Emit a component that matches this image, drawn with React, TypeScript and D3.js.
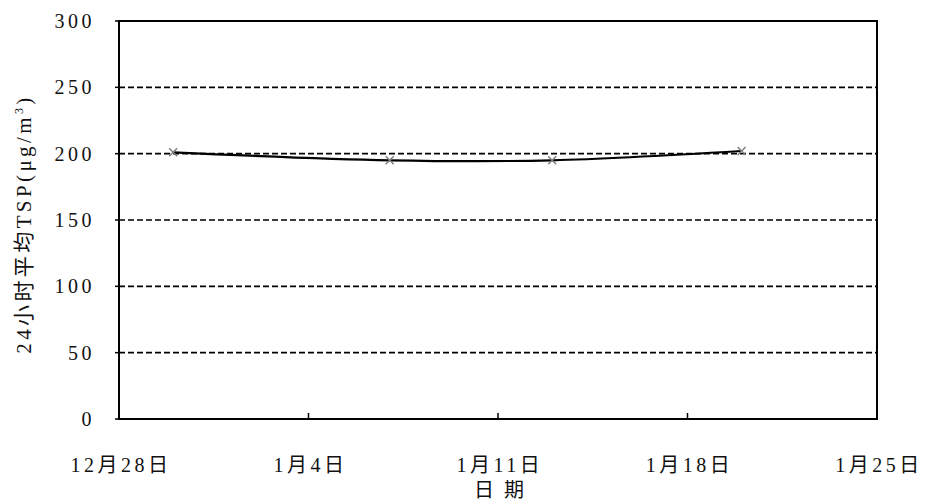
import * as React from 'react'
import { useEffect, useRef } from 'react'
import * as d3 from 'd3'

// sample dates and 24h average TSP (µg/m³)
const sampleDates = ['2013-12-30', '2014-01-07', '2014-01-13', '2014-01-20']
const tspValues = [201, 195, 195, 202]
const xDomain = ['2013-12-28', '2014-01-25']
const yTicks = [0, 50, 100, 150, 200, 250, 300]

const W = 925
const H = 502
const margin = { top: 21, right: 48, bottom: 83, left: 119 }
const FONT = '"Liberation Serif", "Noto Sans CJK JP", serif'

const App = () => {
  const ref = useRef<SVGSVGElement | null>(null)

  useEffect(() => {
    const svg = d3.select(ref.current)
    svg.selectAll('*').remove()

    const parse = d3.timeParse('%Y-%m-%d')
    const x = d3.scaleTime()
      .domain(xDomain.map(d => parse(d) as Date))
      .range([margin.left, W - margin.right])
    const y = d3.scaleLinear().domain([0, 300]).range([H - margin.bottom, margin.top])

    const g = svg.append('g')

    // dashed grid lines
    g.selectAll('line.grid')
      .data(yTicks.filter(t => t > 0 && t < 300))
      .enter()
      .append('line')
      .attr('class', 'grid')
      .attr('x1', margin.left).attr('x2', W - margin.right)
      .attr('y1', d => y(d)).attr('y2', d => y(d))
      .attr('stroke', '#000')
      .attr('stroke-width', 1.6)
      .attr('stroke-dasharray', '6,3')

    // y ticks (outside) and labels
    g.selectAll('line.ytick')
      .data(yTicks)
      .enter()
      .append('line')
      .attr('x1', margin.left - 4).attr('x2', margin.left)
      .attr('y1', d => y(d)).attr('y2', d => y(d))
      .attr('stroke', '#000').attr('stroke-width', 1.5)

    g.selectAll('text.ylab')
      .data(yTicks)
      .enter()
      .append('text')
      .attr('x', 95)
      .attr('y', d => y(d) + 7)
      .attr('text-anchor', 'end')
      .attr('font-family', FONT)
      .attr('font-size', 20)
      .attr('letter-spacing', 3.5)
      .attr('fill', '#111')
      .text(d => String(d))

    // x ticks (inside), one per week from the start date
    const start = x.domain()[0]
    const xt = d3.range(0, 29, 7).map(k => d3.timeDay.offset(start, k))
    const fmt = (d: Date) => `${d.getMonth() + 1}月${d.getDate()}日`

    g.selectAll('line.xtick')
      .data(xt)
      .enter()
      .append('line')
      .attr('x1', d => x(d)).attr('x2', d => x(d))
      .attr('y1', H - margin.bottom).attr('y2', H - margin.bottom - 6)
      .attr('stroke', '#000').attr('stroke-width', 1.5)

    g.selectAll('text.xlab')
      .data(xt)
      .enter()
      .append('text')
      .attr('x', d => x(d) + 2)
      .attr('y', 472)
      .attr('text-anchor', 'middle')
      .attr('font-family', FONT)
      .attr('font-size', 20)
      .attr('letter-spacing', 3.5)
      .attr('fill', '#111')
      .text(d => fmt(d))

    // plot frame
    g.append('rect')
      .attr('x', margin.left).attr('y', margin.top)
      .attr('width', W - margin.left - margin.right)
      .attr('height', H - margin.top - margin.bottom)
      .attr('fill', 'none')
      .attr('stroke', '#000')
      .attr('stroke-width', 2)

    // series
    const pts: [number, number][] = sampleDates.map((d, i) => [x(parse(d) as Date), y(tspValues[i])])
    const line = d3.line().curve(d3.curveCatmullRom.alpha(0.5))
    g.append('path')
      .attr('d', line(pts) as string)
      .attr('fill', 'none')
      .attr('stroke', '#000')
      .attr('stroke-width', 2.2)

    const s = 4
    g.selectAll('path.mark')
      .data(pts)
      .enter()
      .append('path')
      .attr('d', d => `M${d[0] - s},${d[1] - s}L${d[0] + s},${d[1] + s}M${d[0] - s},${d[1] + s}L${d[0] + s},${d[1] - s}`)
      .attr('stroke', '#808080')
      .attr('stroke-width', 1.5)
      .attr('fill', 'none')

    // axis titles
    g.append('text')
      .attr('x', 499)
      .attr('y', 497)
      .attr('text-anchor', 'middle')
      .attr('font-family', FONT)
      .attr('font-size', 20)
      .attr('fill', '#111')
      .attr('xml:space', 'preserve')
      .text('日  期')

    const yt = g.append('text')
      .attr('transform', `translate(31,${224}) rotate(-90)`)
      .attr('text-anchor', 'middle')
      .attr('font-family', FONT)
      .attr('font-size', 21)
      .attr('fill', '#111')
      .attr('letter-spacing', 3.4)
    yt.append('tspan').text('24小时平均TSP(μg/m')
    yt.append('tspan').attr('font-size', 12).attr('dy', -8).text('3')
    yt.append('tspan').attr('dy', 8).text(')')
  }, [])

  return (
    <svg
      ref={ref}
      width={W}
      height={H}
      style={{ position: 'absolute', left: 0, top: 0, background: '#fff' }}
    />
  )
}

export default App
